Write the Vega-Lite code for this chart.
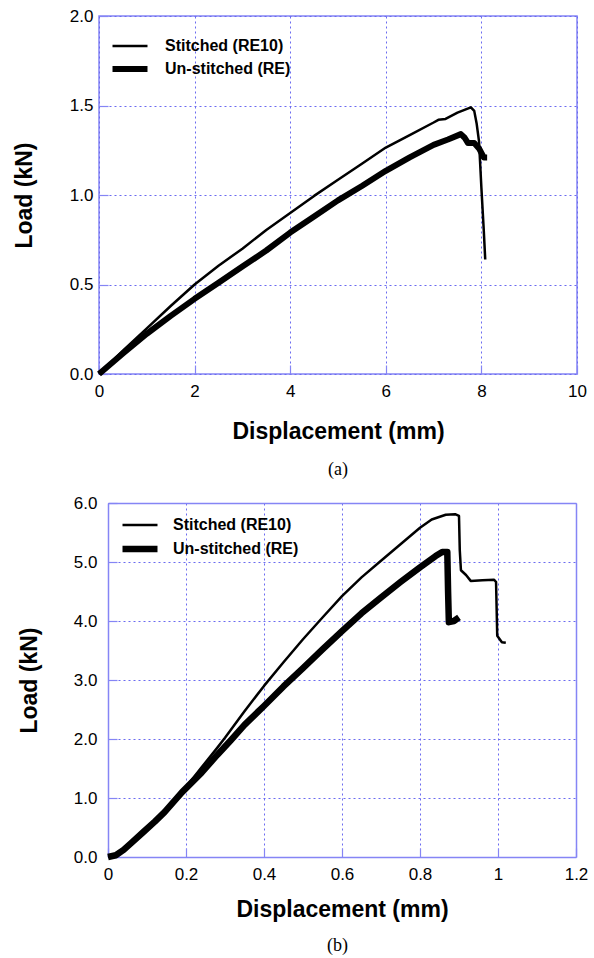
{
  "$schema": "https://vega.github.io/schema/vega-lite/v6.json",
  "description": "Load vs displacement, stitched (RE10) and un-stitched (RE) specimens, two panels",
  "padding": {"left": 12, "top": 6, "right": 0, "bottom": 0},
  "spacing": 14,
  "config": {
    "font": "Liberation Sans",
    "view": {"stroke": "#8585f5", "strokeWidth": 1.5},
    "axis": {
      "domain": false,
      "domainColor": "#8585f5",
      "domainWidth": 1.5,
      "grid": true,
      "gridColor": "#6b6bf0",
      "gridDash": [2, 3],
      "gridWidth": 1,
      "tickColor": "#8585f5",
      "tickSize": -9,
      "tickWidth": 1.2,
      "labelFont": "Liberation Sans",
      "labelFontSize": 17,
      "labelColor": "black",
      "labelFlush": false,
      "labelOverlap": false,
      "titleFont": "Liberation Sans",
      "titleFontSize": 23,
      "titleFontWeight": "bold",
      "titleColor": "black"
    },
    "legend": {
      "orient": "none",
      "title": null,
      "padding": 0,
      "symbolType": "M-2,0H2",
      "symbolSize": 306,
      "symbolStrokeColor": "black",
      "symbolFillColor": "transparent",
      "labelFont": "Liberation Sans",
      "labelFontSize": 16,
      "labelFontWeight": "bold",
      "labelColor": "black",
      "labelOffset": 23,
      "rowPadding": 3
    },
    "title": {
      "orient": "bottom",
      "font": "Liberation Serif",
      "fontSize": 18,
      "fontWeight": "normal",
      "color": "black",
      "anchor": "middle"
    }
  },
  "resolve": {
    "scale": {"strokeWidth": "independent"},
    "legend": {"strokeWidth": "independent"}
  },
  "vconcat": [
    {
      "width": 478,
      "height": 358,
      "title": {"text": "(a)", "offset": 18},
      "data": {
        "values": [
          {"series": "Stitched (RE10)", "disp": 0, "load": 0},
          {"series": "Stitched (RE10)", "disp": 0.5, "load": 0.13},
          {"series": "Stitched (RE10)", "disp": 1, "load": 0.255},
          {"series": "Stitched (RE10)", "disp": 1.5, "load": 0.38},
          {"series": "Stitched (RE10)", "disp": 2, "load": 0.5},
          {"series": "Stitched (RE10)", "disp": 2.5, "load": 0.605},
          {"series": "Stitched (RE10)", "disp": 3, "load": 0.7},
          {"series": "Stitched (RE10)", "disp": 3.5, "load": 0.805},
          {"series": "Stitched (RE10)", "disp": 4, "load": 0.9},
          {"series": "Stitched (RE10)", "disp": 4.5, "load": 0.995},
          {"series": "Stitched (RE10)", "disp": 5, "load": 1.085},
          {"series": "Stitched (RE10)", "disp": 5.5, "load": 1.175},
          {"series": "Stitched (RE10)", "disp": 6, "load": 1.265},
          {"series": "Stitched (RE10)", "disp": 6.5, "load": 1.335},
          {"series": "Stitched (RE10)", "disp": 7, "load": 1.405},
          {"series": "Stitched (RE10)", "disp": 7.1, "load": 1.42},
          {"series": "Stitched (RE10)", "disp": 7.25, "load": 1.425},
          {"series": "Stitched (RE10)", "disp": 7.5, "load": 1.46},
          {"series": "Stitched (RE10)", "disp": 7.78, "load": 1.49},
          {"series": "Stitched (RE10)", "disp": 7.85, "load": 1.47},
          {"series": "Stitched (RE10)", "disp": 7.9, "load": 1.4},
          {"series": "Stitched (RE10)", "disp": 7.95, "load": 1.3},
          {"series": "Stitched (RE10)", "disp": 8.0, "load": 1.04},
          {"series": "Stitched (RE10)", "disp": 8.05, "load": 0.8},
          {"series": "Stitched (RE10)", "disp": 8.08, "load": 0.64},
          {"series": "Un-stitched (RE)", "disp": 0, "load": 0},
          {"series": "Un-stitched (RE)", "disp": 0.5, "load": 0.115},
          {"series": "Un-stitched (RE)", "disp": 1, "load": 0.225},
          {"series": "Un-stitched (RE)", "disp": 1.5, "load": 0.325},
          {"series": "Un-stitched (RE)", "disp": 2, "load": 0.42},
          {"series": "Un-stitched (RE)", "disp": 2.5, "load": 0.51},
          {"series": "Un-stitched (RE)", "disp": 3, "load": 0.6},
          {"series": "Un-stitched (RE)", "disp": 3.5, "load": 0.69},
          {"series": "Un-stitched (RE)", "disp": 4, "load": 0.79},
          {"series": "Un-stitched (RE)", "disp": 4.5, "load": 0.88},
          {"series": "Un-stitched (RE)", "disp": 5, "load": 0.97},
          {"series": "Un-stitched (RE)", "disp": 5.5, "load": 1.05},
          {"series": "Un-stitched (RE)", "disp": 6, "load": 1.135},
          {"series": "Un-stitched (RE)", "disp": 6.5, "load": 1.21},
          {"series": "Un-stitched (RE)", "disp": 7, "load": 1.28},
          {"series": "Un-stitched (RE)", "disp": 7.3, "load": 1.31},
          {"series": "Un-stitched (RE)", "disp": 7.57, "load": 1.34},
          {"series": "Un-stitched (RE)", "disp": 7.65, "load": 1.32},
          {"series": "Un-stitched (RE)", "disp": 7.72, "load": 1.29},
          {"series": "Un-stitched (RE)", "disp": 7.85, "load": 1.29},
          {"series": "Un-stitched (RE)", "disp": 7.95, "load": 1.26},
          {"series": "Un-stitched (RE)", "disp": 8.05, "load": 1.21},
          {"series": "Un-stitched (RE)", "disp": 8.12, "load": 1.21}
        ]
      },
      "mark": {"type": "line", "color": "black", "strokeJoin": "round"},
      "encoding": {
        "x": {
          "field": "disp",
          "type": "quantitative",
          "scale": {"domain": [0, 10], "nice": false},
          "axis": {
            "title": "Displacement (mm)",
            "values": [0, 2, 4, 6, 8, 10],
            "format": "d",
            "labelPadding": 18,
            "titlePadding": 21
          }
        },
        "y": {
          "field": "load",
          "type": "quantitative",
          "scale": {"domain": [0, 2], "nice": false},
          "axis": {
            "title": "Load (kN)",
            "values": [0, 0.5, 1, 1.5, 2],
            "format": ".1f",
            "labelPadding": 15,
            "titlePadding": 33
          }
        },
        "strokeWidth": {
          "field": "series",
          "type": "ordinal",
          "scale": {"domain": ["Stitched (RE10)", "Un-stitched (RE)"], "range": [2.5, 6]},
          "legend": {"legendX": 19, "legendY": 20}
        }
      }
    },
    {
      "width": 477,
      "height": 354,
      "view": {"stroke": null},
      "title": {"text": "(b)", "offset": 16},
      "data": {
        "values": [
          {"series": "Stitched (RE10)", "disp": 0, "load": 0},
          {"series": "Stitched (RE10)", "disp": 0.02, "load": 0.03},
          {"series": "Stitched (RE10)", "disp": 0.04, "load": 0.12},
          {"series": "Stitched (RE10)", "disp": 0.06, "load": 0.24},
          {"series": "Stitched (RE10)", "disp": 0.09, "load": 0.42},
          {"series": "Stitched (RE10)", "disp": 0.12, "load": 0.6},
          {"series": "Stitched (RE10)", "disp": 0.145, "load": 0.76},
          {"series": "Stitched (RE10)", "disp": 0.19, "load": 1.1},
          {"series": "Stitched (RE10)", "disp": 0.24, "load": 1.52},
          {"series": "Stitched (RE10)", "disp": 0.28, "load": 1.85},
          {"series": "Stitched (RE10)", "disp": 0.3, "load": 2.02},
          {"series": "Stitched (RE10)", "disp": 0.35, "load": 2.47},
          {"series": "Stitched (RE10)", "disp": 0.4, "load": 2.9},
          {"series": "Stitched (RE10)", "disp": 0.45, "load": 3.3},
          {"series": "Stitched (RE10)", "disp": 0.5, "load": 3.69},
          {"series": "Stitched (RE10)", "disp": 0.55, "load": 4.06},
          {"series": "Stitched (RE10)", "disp": 0.6, "load": 4.42},
          {"series": "Stitched (RE10)", "disp": 0.65, "load": 4.74},
          {"series": "Stitched (RE10)", "disp": 0.7, "load": 5.02},
          {"series": "Stitched (RE10)", "disp": 0.75, "load": 5.3},
          {"series": "Stitched (RE10)", "disp": 0.8, "load": 5.58},
          {"series": "Stitched (RE10)", "disp": 0.83, "load": 5.72},
          {"series": "Stitched (RE10)", "disp": 0.866, "load": 5.8},
          {"series": "Stitched (RE10)", "disp": 0.89, "load": 5.81},
          {"series": "Stitched (RE10)", "disp": 0.9, "load": 5.78},
          {"series": "Stitched (RE10)", "disp": 0.902, "load": 5.2},
          {"series": "Stitched (RE10)", "disp": 0.905, "load": 4.86},
          {"series": "Stitched (RE10)", "disp": 0.918, "load": 4.78},
          {"series": "Stitched (RE10)", "disp": 0.93, "load": 4.68},
          {"series": "Stitched (RE10)", "disp": 0.96, "load": 4.69},
          {"series": "Stitched (RE10)", "disp": 0.99, "load": 4.7},
          {"series": "Stitched (RE10)", "disp": 0.995, "load": 4.66},
          {"series": "Stitched (RE10)", "disp": 0.998, "load": 3.75},
          {"series": "Stitched (RE10)", "disp": 1.01, "load": 3.64},
          {"series": "Stitched (RE10)", "disp": 1.02, "load": 3.63},
          {"series": "Un-stitched (RE)", "disp": 0, "load": 0},
          {"series": "Un-stitched (RE)", "disp": 0.02, "load": 0.03},
          {"series": "Un-stitched (RE)", "disp": 0.04, "load": 0.12},
          {"series": "Un-stitched (RE)", "disp": 0.06, "load": 0.24},
          {"series": "Un-stitched (RE)", "disp": 0.09, "load": 0.42},
          {"series": "Un-stitched (RE)", "disp": 0.12, "load": 0.6},
          {"series": "Un-stitched (RE)", "disp": 0.145, "load": 0.76},
          {"series": "Un-stitched (RE)", "disp": 0.19, "load": 1.1},
          {"series": "Un-stitched (RE)", "disp": 0.24, "load": 1.43},
          {"series": "Un-stitched (RE)", "disp": 0.28, "load": 1.73},
          {"series": "Un-stitched (RE)", "disp": 0.315, "load": 1.98},
          {"series": "Un-stitched (RE)", "disp": 0.35, "load": 2.24},
          {"series": "Un-stitched (RE)", "disp": 0.4, "load": 2.56},
          {"series": "Un-stitched (RE)", "disp": 0.45, "load": 2.89},
          {"series": "Un-stitched (RE)", "disp": 0.5, "load": 3.2},
          {"series": "Un-stitched (RE)", "disp": 0.55, "load": 3.52},
          {"series": "Un-stitched (RE)", "disp": 0.6, "load": 3.83},
          {"series": "Un-stitched (RE)", "disp": 0.65, "load": 4.13},
          {"series": "Un-stitched (RE)", "disp": 0.7, "load": 4.4},
          {"series": "Un-stitched (RE)", "disp": 0.75, "load": 4.66},
          {"series": "Un-stitched (RE)", "disp": 0.8, "load": 4.91},
          {"series": "Un-stitched (RE)", "disp": 0.84, "load": 5.1},
          {"series": "Un-stitched (RE)", "disp": 0.857, "load": 5.17},
          {"series": "Un-stitched (RE)", "disp": 0.87, "load": 5.17},
          {"series": "Un-stitched (RE)", "disp": 0.872, "load": 4.5},
          {"series": "Un-stitched (RE)", "disp": 0.874, "load": 3.98},
          {"series": "Un-stitched (RE)", "disp": 0.887, "load": 4.0},
          {"series": "Un-stitched (RE)", "disp": 0.9, "load": 4.06}
        ]
      },
      "resolve": {"axis": {"x": "independent", "y": "independent"}},
      "layer": [
        {
          "mark": {"type": "line", "color": "black", "strokeJoin": "round"},
          "encoding": {
            "x": {
              "field": "disp",
              "type": "quantitative",
              "scale": {"domain": [0, 1.2], "nice": false, "range": [9, 477]},
              "axis": {
                "title": "Displacement (mm)",
                "values": [0, 0.2, 0.4, 0.6, 0.8, 1, 1.2],
                "format": "~g",
                "domain": true,
                "labelPadding": 18,
                "titlePadding": 16
              }
            },
            "y": {
              "field": "load",
              "type": "quantitative",
              "scale": {"domain": [0, 6], "nice": false},
              "axis": {
                "title": "Load (kN)",
                "values": [0, 1, 2, 3, 4, 5, 6],
                "format": ".1f",
                "domain": true,
                "offset": -9,
                "labelPadding": 20,
                "titlePadding": 32
              }
            },
            "strokeWidth": {
              "field": "series",
              "type": "ordinal",
              "scale": {"domain": ["Stitched (RE10)", "Un-stitched (RE)"], "range": [2.5, 6.5]},
              "legend": {"legendX": 29, "legendY": 12, "labelOffset": 21}
            }
          }
        },
        {
          "mark": {"type": "line", "opacity": 0},
          "encoding": {
            "x": {
              "field": "disp",
              "type": "quantitative",
              "axis": {
                "orient": "top",
                "title": null,
                "labels": false,
                "ticks": false,
                "grid": false,
                "domain": true
              }
            },
            "y": {
              "field": "load",
              "type": "quantitative",
              "axis": {
                "orient": "right",
                "title": null,
                "labels": false,
                "ticks": false,
                "grid": false,
                "domain": true
              }
            }
          }
        }
      ]
    }
  ]
}
